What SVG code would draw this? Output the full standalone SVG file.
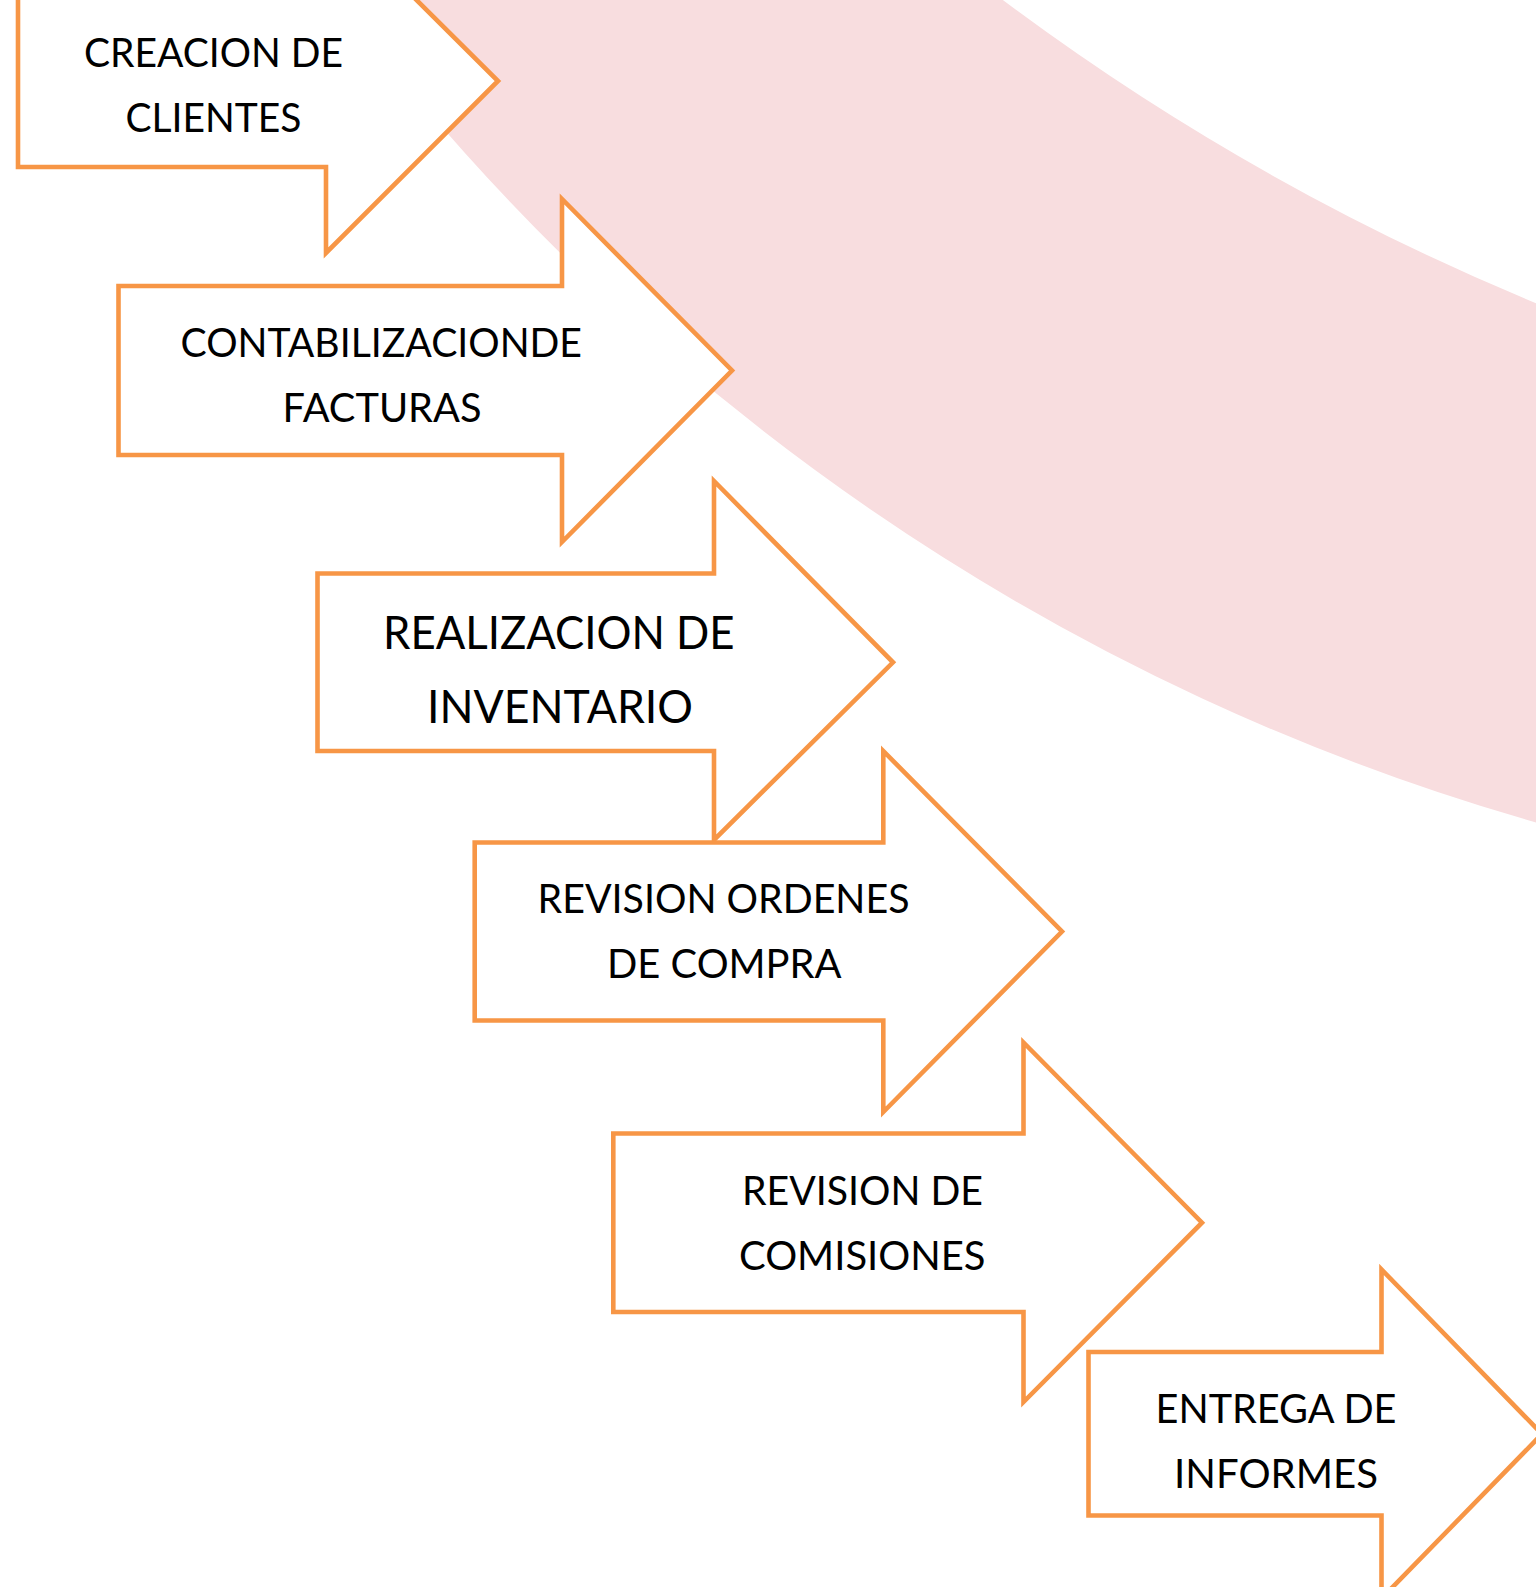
<svg xmlns="http://www.w3.org/2000/svg" width="1536" height="1587" viewBox="0 0 1536 1587">
<style>
.arrow{fill:#FFFFFF;stroke:#F79646;stroke-width:4.6;stroke-linejoin:miter;stroke-miterlimit:10}
.lbl{font-family:Lato,"Liberation Sans",sans-serif;font-size:41px;fill:#000000}
.big{font-size:45.5px}
</style>
<rect x="0" y="0" width="1536" height="1587" fill="#FFFFFF"/>
<path id="band" d="M 976.5,-20 A 2450 2450 0 0 0 1560,312.9 L 1560,829.1 A 2274.6 2274.6 0 0 1 324.5,-20 Z" fill="#F8DDDF"/>
<g id="connectors"></g>
<g id="n1">
<polygon class="arrow" points="18,-4 326,-4 326,-90 498,81 326,253 326,167 18,167"/>
<text class="lbl" x="84" y="66.7" textLength="259" lengthAdjust="spacingAndGlyphs">CREACION DE</text>
<text class="lbl" x="125.5" y="131.7" textLength="176" lengthAdjust="spacingAndGlyphs">CLIENTES</text>
</g>
<g id="n2">
<polygon class="arrow" points="118.5,286 562,286 562,199 732,370.5 562,542 562,455 118.5,455"/>
<text class="lbl" x="180.5" y="356.7" textLength="401.5" lengthAdjust="spacingAndGlyphs">CONTABILIZACIONDE</text>
<text class="lbl" x="282.5" y="421.7" textLength="199" lengthAdjust="spacingAndGlyphs">FACTURAS</text>
</g>
<g id="n3">
<polygon class="arrow" points="317.5,573.5 714,573.5 714,481 893,662.3 714,840 714,751 317.5,751"/>
<text class="lbl big" x="383" y="649.3" textLength="351.5" lengthAdjust="spacingAndGlyphs">REALIZACION DE</text>
<text class="lbl big" x="427" y="722.7" textLength="266" lengthAdjust="spacingAndGlyphs">INVENTARIO</text>
</g>
<g id="n4">
<polygon class="arrow" points="474.7,842.5 883.3,842.5 883.3,751 1062,931.5 883.3,1112 883.3,1020.5 474.7,1020.5"/>
<text class="lbl" x="537.5" y="913.3" textLength="372" lengthAdjust="spacingAndGlyphs">REVISION ORDENES</text>
<text class="lbl" x="607" y="978.3" textLength="234.5" lengthAdjust="spacingAndGlyphs">DE COMPRA</text>
</g>
<g id="n5">
<polygon class="arrow" points="613.3,1133.5 1023.5,1133.5 1023.5,1042.5 1202,1222.7 1023.5,1402 1023.5,1312 613.3,1312"/>
<text class="lbl" x="742" y="1205" textLength="241" lengthAdjust="spacingAndGlyphs">REVISION DE</text>
<text class="lbl" x="739" y="1270" textLength="246.5" lengthAdjust="spacingAndGlyphs">COMISIONES</text>
</g>
<g id="n6">
<polygon class="arrow" points="1088.5,1352 1381.5,1352 1381.5,1269.5 1542,1434 1381.5,1598.5 1381.5,1515.5 1088.5,1515.5"/>
<text class="lbl" x="1155.5" y="1422.7" textLength="241" lengthAdjust="spacingAndGlyphs">ENTREGA DE</text>
<text class="lbl" x="1174" y="1488.3" textLength="204" lengthAdjust="spacingAndGlyphs">INFORMES</text>
</g>
</svg>
